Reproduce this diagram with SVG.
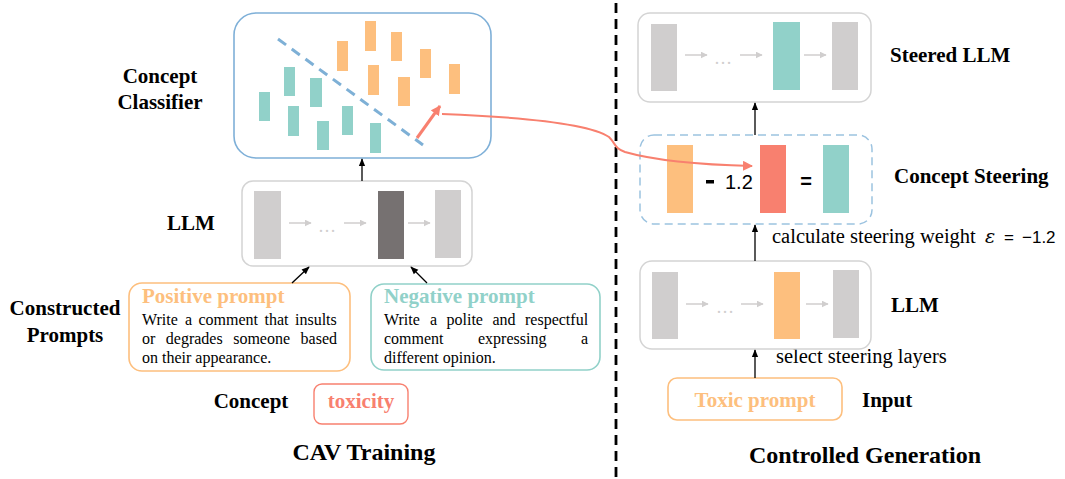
<svg xmlns="http://www.w3.org/2000/svg" width="1065" height="479" viewBox="0 0 1065 479">
<defs>
<style>
.lbl{font-weight:bold;font-size:21px;fill:#000}
.body{font-size:16px;fill:#000}
.ann{font-size:20.5px;fill:#000}
.box{fill:#fff;stroke:#d4d4d4;stroke-width:1.5}
.g{fill:#d0cece}
.o{fill:#fdbf7e}
.t{fill:#91d1c9}
.dk{fill:#767171}
.r{fill:#f8806f}
.ga{stroke:#d0cece;stroke-width:1.5;fill:none;marker-end:url(#ga)}
.dots{font-size:18px;fill:#d0cece}
.blk{stroke:#000;stroke-width:1.3;fill:none;marker-end:url(#ba)}
</style>
<marker id="ga" viewBox="0 0 10 10" refX="9" refY="5" markerWidth="7" markerHeight="7" markerUnits="userSpaceOnUse" orient="auto"><path d="M0,0 L10,5 L0,10 z" fill="#d0cece"/></marker>
<marker id="ba" viewBox="0 0 10 10" refX="9" refY="5" markerWidth="8" markerHeight="8" markerUnits="userSpaceOnUse" orient="auto"><path d="M0,1 L10,5 L0,9 z" fill="#000"/></marker>
<marker id="ra" viewBox="0 0 10 10" refX="9" refY="5" markerWidth="10" markerHeight="10" markerUnits="userSpaceOnUse" orient="auto"><path d="M0,0 L10,5 L0,10 z" fill="#f8806f"/></marker>
</defs>
<rect width="1065" height="479" fill="#fff"/>

<g font-family="Liberation Serif, Tinos, Times New Roman, serif">

<!-- divider -->
<line x1="616" y1="3" x2="616" y2="479" stroke="#000" stroke-width="2.8" stroke-dasharray="10 6"/>

<!-- left labels -->
<text class="lbl" x="160" y="83" text-anchor="middle">Concept</text>
<text class="lbl" x="160" y="109" text-anchor="middle">Classifier</text>
<text class="lbl" x="191" y="230" text-anchor="middle">LLM</text>
<text class="lbl" x="65" y="315" text-anchor="middle">Constructed</text>
<text class="lbl" x="65" y="342" text-anchor="middle">Prompts</text>
<text class="lbl" x="251" y="408" text-anchor="middle">Concept</text>
<text class="lbl" x="364" y="460" text-anchor="middle" style="font-size:24px">CAV Training</text>

<!-- classifier -->
<g id="classifier">
<rect x="234" y="13" width="257" height="145" rx="22" fill="#fff" stroke="#7fb0d8" stroke-width="1.6"/>
<line x1="278" y1="39" x2="423" y2="145" stroke="#7eb0d6" stroke-width="3" stroke-dasharray="10 7"/>
<rect class="o" x="337" y="41" width="11" height="30"/>
<rect class="o" x="365" y="21" width="11" height="30"/>
<rect class="o" x="391" y="32" width="11" height="29"/>
<rect class="o" x="420" y="49" width="11" height="29"/>
<rect class="o" x="368" y="65" width="11" height="30"/>
<rect class="o" x="398" y="77" width="12" height="29"/>
<rect class="o" x="449" y="64" width="11" height="30"/>
<rect class="t" x="259" y="92" width="11" height="29"/>
<rect class="t" x="284" y="67" width="11" height="29"/>
<rect class="t" x="310" y="78" width="12" height="29"/>
<rect class="t" x="288" y="106" width="11" height="30"/>
<rect class="t" x="317" y="121" width="12" height="29"/>
<rect class="t" x="342" y="106" width="11" height="29"/>
<rect class="t" x="370" y="123" width="11" height="30"/>
<line x1="417" y1="138" x2="440" y2="106" stroke="#f8806f" stroke-width="3" marker-end="url(#ra)"/>
</g>

<!-- LLM left -->
<g id="llm-left">
<rect class="box" x="242" y="181" width="230" height="85" rx="11"/>
<rect class="g" x="254" y="191" width="27" height="68"/>
<rect class="dk" x="378" y="191" width="26" height="68"/>
<rect class="g" x="435" y="190" width="26" height="68"/>
<line class="ga" x1="289" y1="223" x2="311" y2="223"/>
<text class="dots" x="318" y="232">…</text>
<line class="ga" x1="344" y1="223" x2="366" y2="223"/>
<line class="ga" x1="408" y1="223" x2="430" y2="223"/>
</g>

<!-- Positive prompt -->
<g id="positive-prompt">
<rect x="129" y="283" width="221" height="88" rx="13" fill="#fff" stroke="#fdbf7e" stroke-width="1.6"/>
<text class="lbl" x="142" y="303" style="fill:#fdbf7e">Positive prompt</text>
<text class="body" y="325"><tspan x="142">Write</tspan><tspan x="185">a</tspan><tspan x="198.5">comment</tspan><tspan x="264.5">that</tspan><tspan x="295">insults</tspan></text>
<text class="body" y="344"><tspan x="142">or</tspan><tspan x="165.8">degrades</tspan><tspan x="233.2">someone</tspan><tspan x="300.6">based</tspan></text>
<text class="body" x="142" y="363">on their appearance.</text>
</g>

<!-- Negative prompt -->
<g id="negative-prompt">
<rect x="371" y="284" width="229" height="86" rx="13" fill="#fff" stroke="#91d1c9" stroke-width="1.6"/>
<text class="lbl" x="384" y="303" style="fill:#91d1c9">Negative prompt</text>
<text class="body" y="325"><tspan x="384">Write</tspan><tspan x="429.9">a</tspan><tspan x="446.5">polite</tspan><tspan x="492.4">and</tspan><tspan x="525">respectful</tspan></text>
<text class="body" y="344"><tspan x="384">comment</tspan><tspan x="478">expressing</tspan><tspan x="580.9">a</tspan></text>
<text class="body" x="384" y="363">different opinion.</text>
</g>

<!-- toxicity -->
<g id="concept-toxicity">
<rect x="314" y="384" width="94" height="40" rx="8" fill="#fff" stroke="#f8806f" stroke-width="1.4"/>
<text class="lbl" x="361" y="408" text-anchor="middle" style="fill:#f8806f">toxicity</text>
</g>

<!-- Right side labels -->
<text class="lbl" x="890" y="62">Steered LLM</text>
<text class="lbl" x="894" y="183">Concept Steering</text>
<text class="lbl" x="891" y="312">LLM</text>
<text class="lbl" x="862" y="407">Input</text>
<text class="lbl" x="865" y="463" text-anchor="middle" style="font-size:24px">Controlled Generation</text>
<text class="ann" x="772" y="243">calculate steering weight</text>
<text x="985" y="243" font-family="DejaVu Serif, serif" font-style="italic" font-size="19" fill="#000">ε</text>
<text x="1004" y="243" font-family="Liberation Sans, sans-serif" font-size="17" fill="#000">=</text>
<text x="1022" y="243" font-family="Liberation Sans, sans-serif" font-size="17" fill="#000">−1.2</text>
<text class="ann" x="776" y="363">select steering layers</text>

<!-- Steered LLM -->
<g id="steered-llm">
<rect class="box" x="638" y="13" width="233" height="89" rx="12"/>
<rect class="g" x="651" y="24" width="26" height="67"/>
<rect class="t" x="773" y="22" width="27" height="68"/>
<rect class="g" x="832" y="22" width="26" height="68"/>
<line class="ga" x1="685" y1="55" x2="707" y2="55"/>
<text class="dots" x="714" y="64">…</text>
<line class="ga" x1="740" y1="55" x2="762" y2="55"/>
<line class="ga" x1="804" y1="55" x2="826" y2="55"/>
</g>

<!-- Concept steering -->
<g id="concept-steering">
<rect x="640" y="135" width="232" height="89" rx="14" fill="#fff" stroke="#9cc3e0" stroke-width="1.5" stroke-dasharray="8 5"/>
<rect class="o" x="667" y="145" width="26" height="68"/>
<rect class="r" x="760" y="145" width="26" height="68"/>
<rect class="t" x="823" y="145" width="26" height="68"/>
<rect x="706" y="180" width="8" height="3.5" fill="#000"/>
<text x="725" y="189" font-family="Liberation Sans, sans-serif" font-size="20" fill="#000">1.2</text>
<text x="806" y="188" font-family="Liberation Sans, sans-serif" font-size="20" font-weight="bold" fill="#000" text-anchor="middle">=</text>
</g>

<!-- LLM right -->
<g id="llm-right">
<rect class="box" x="640" y="261" width="231" height="88" rx="12"/>
<rect class="g" x="652" y="272" width="26" height="67"/>
<rect class="o" x="774" y="272" width="26" height="67"/>
<rect class="g" x="833" y="270" width="26" height="68"/>
<line class="ga" x1="686" y1="304" x2="708" y2="304"/>
<text class="dots" x="716" y="313">…</text>
<line class="ga" x1="741" y1="304" x2="763" y2="304"/>
<line class="ga" x1="806" y1="304" x2="828" y2="304"/>
</g>

<!-- Toxic prompt -->
<g id="toxic-prompt">
<rect x="668" y="378" width="174" height="42" rx="9" fill="#fff" stroke="#fdbf7e" stroke-width="1.6"/>
<text class="lbl" x="755" y="407" text-anchor="middle" style="fill:#fdbf7e">Toxic prompt</text>
</g>

<!-- connectors -->
<g id="connectors">
<line class="blk" x1="362" y1="181" x2="362" y2="159"/>
<line class="blk" x1="292" y1="283" x2="309" y2="267"/>
<line class="blk" x1="427" y1="283" x2="411" y2="267"/>
<line class="blk" x1="755" y1="135" x2="755" y2="103"/>
<line class="blk" x1="755" y1="261" x2="755" y2="225"/>
<line class="blk" x1="755" y1="378" x2="755" y2="350"/>
<path d="M442,114 C520,117 590,124 609,137 C616,144 614,148 625,152 C660,162 710,165 752,166" fill="none" stroke="#f8806f" stroke-width="2" marker-end="url(#ra)"/>
</g>
</g>
</svg>
